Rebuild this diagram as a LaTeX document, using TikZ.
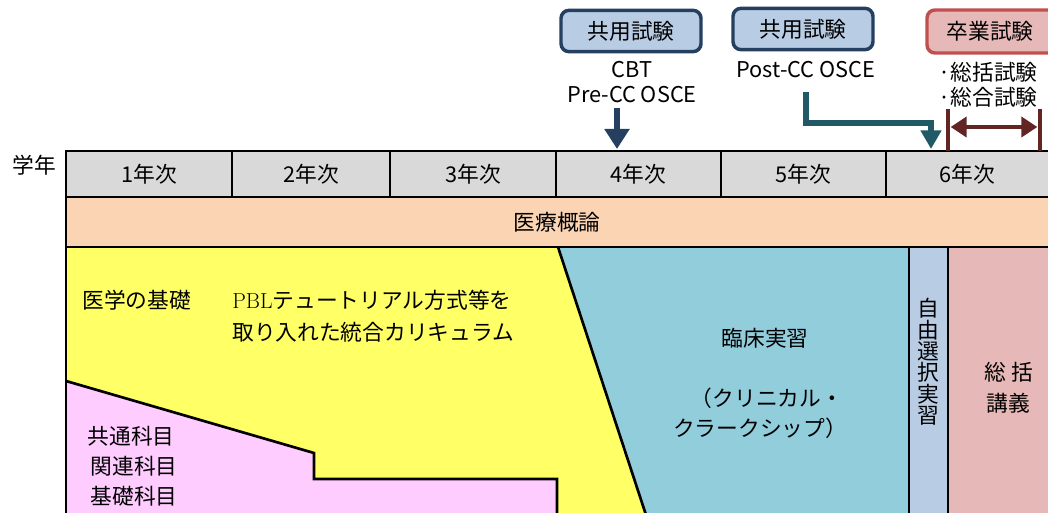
\documentclass[tikz,border=0pt]{standalone}
\usepackage{fontspec}
\usepackage{xcolor}
\newfontfamily\jp{Noto Sans CJK JP}
\usetikzlibrary{arrows.meta}
\definecolor{yeargray}{HTML}{D9D9D9}
\definecolor{introfill}{HTML}{FBD4B4}
\definecolor{basicyellow}{HTML}{FFFF66}
\definecolor{commonpink}{HTML}{FFCCFF}
\definecolor{clinblue}{HTML}{92CDDC}
\definecolor{electlav}{HTML}{B8CCE4}
\definecolor{lecturerose}{HTML}{E6B8B7}
\definecolor{navy}{HTML}{243F60}
\definecolor{tealdark}{HTML}{215967}
\definecolor{brickred}{HTML}{C0504D}
\definecolor{maroon}{HTML}{632523}

\tikzset{
  label/.style={font=\jp\fontsize{16.3}{18.75}\selectfont, inner sep=0pt, align=center},
  exambox/.style={label, draw=navy, fill=electlav, line width=2.6pt,
    rounded corners=6pt, minimum width=105pt, minimum height=31pt},
  border/.style={line width=2pt, black}
}

\begin{document}
\begin{tikzpicture}[x=0.75pt, y=-0.75pt, line cap=butt]
  \useasboundingbox (0,0) rectangle (1048,513);
  \clip (0,0) rectangle (1048,513);

  % Curriculum areas
  \fill[basicyellow] (66,247) -- (558,247) -- (646,513) -- (66,513) -- cycle;
  \fill[commonpink] (66,381) -- (314,453) -- (314,479) -- (557,479) -- (557,513) -- (66,513) -- cycle;
  \fill[clinblue] (558,247) -- (909,247) -- (909,513) -- (646,513) -- cycle;
  \fill[electlav] (909,247) rectangle (948,513);
  \fill[lecturerose] (948,247) rectangle (1050,513);
  \draw[border] (66,381) -- (314,453) -- (314,479) -- (557,479) -- (557,515);
  \draw[border] (558,247) -- (646,515);
  \draw[border] (909,247) -- (909,515);
  \draw[border] (948,247) -- (948,515);
  \draw[border] (66,247) -- (66,515);

  % Year row
  \draw[border, fill=yeargray] (66,151) rectangle (1052,197);
  \foreach \x in {232,390,556,721,886}
    \draw[border] (\x,151) -- (\x,197);
  \draw[border, fill=introfill] (66,197) rectangle (1052,247);

  \node[label] (grade) at (34,165) {学年};
  \foreach \name/\x/\txt in {y1/149/1年次, y2/311/2年次, y3/473/3年次,
                             y4/638/4年次, y5/803/5年次, y6/967/6年次}
    \node[label] (\name) at (\x,174) {\txt};
  \node[label] (intro) at (557,222) {医療概論};

  % Labels inside areas
  \node[label, anchor=west] (basics) at (82,300) {医学の基礎};
  \node[label, anchor=west] (pbl1) at (232,300) {{\rmfamily\fontsize{16.3}{18}\selectfont PBL}テュートリアル方式等を};
  \node[label, anchor=west] (pbl2) at (232,332) {取り入れた統合カリキュラム};
  \node[label] (common) at (131,436) {共通科目};
  \node[label] (related) at (134,466) {関連科目};
  \node[label] (fund) at (134,496) {基礎科目};
  \node[label] (clin) at (765,338) {臨床実習};
  \node[label] (cc1) at (767,398) {（クリニカル・};
  \node[label] (cc2) at (760,428) {クラークシップ）};
  \node[label, font=\jp\fontsize{16.3}{16}\selectfont] (elect) at (928,362)
    {自\\由\\選\\択\\実\\習};
  \node[label] (sum1) at (1009,372) {総 括};
  \node[label] (sum2) at (1008,403) {講義};

  % Exams
  \node[exambox] (exam1) at (631,31) {共用試験};
  \node[exambox] (exam2) at (803,29) {共用試験};
  \draw[brickred, fill=lecturerose, line width=2.6pt, rounded corners=6pt]
    (927,10) rectangle (1090,53);
  \node[label] (exam3) at (990,31) {卒業試験};
  \node[label] (cbt) at (632,82) {CBT\\Pre-CC OSCE};
  \node[label] (post) at (806,70) {Post-CC OSCE};
  \node[label, align=left] (final) at (988,85) {·総括試験\\·総合試験};

  % Arrows
  \coordinate (cbttail) at (617,108);
  \coordinate (cbttip) at (617,149);
  \draw[navy, line width=4.5pt, -{Triangle[width=18pt, length=15pt]}] (cbttail) -- (cbttip);
  \coordinate (posttail) at (806,92);
  \coordinate (postturn) at (931,123);
  \coordinate (posttip) at (931,149);
  \draw[tealdark, line width=4.5pt, -{Triangle[width=15pt, length=14pt]}]
    (posttail) |- (postturn) [rounded corners=4pt] -- (posttip);
  \coordinate (finstart) at (948,127);
  \coordinate (finend) at (1040,127);
  \draw[maroon, line width=3.5pt] (948,109) -- (948,151) (1040,109) -- (1040,151);
  \draw[maroon, line width=3.5pt, {Triangle[width=15pt, length=12pt]}-{Triangle[width=15pt, length=12pt]}]
    ([xshift=2]finstart) -- ([xshift=-2]finend);
\end{tikzpicture}
\end{document}
